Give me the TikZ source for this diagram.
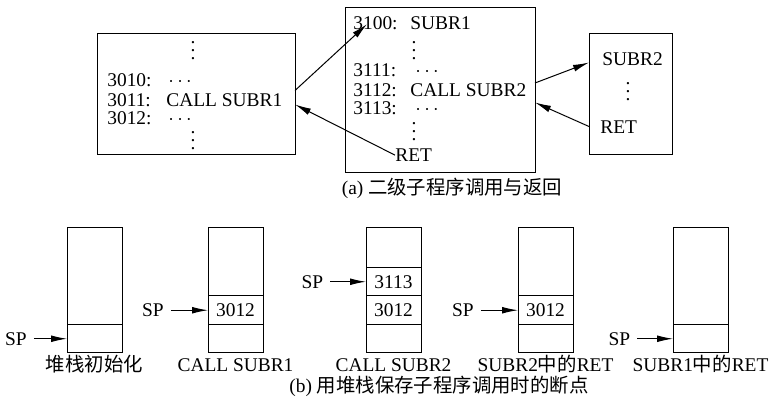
\documentclass[tikz,border=0pt]{standalone}
\usepackage{fontspec}
\setmainfont{Liberation Serif}
\newfontfamily\cjk{Noto Sans CJK SC}
\usetikzlibrary{arrows.meta}
\usetikzlibrary{positioning}

% three stacked dots, without the empty space above that \vdots keeps
\newcommand\dotcol{\vbox{\baselineskip4pt\lineskiplimit0pt\hbox{.}\hbox{.}\hbox{.}}}

\tikzset{
  frame/.style={draw,line width=0.5pt,inner sep=0pt,outer sep=0pt},
  cell/.style={frame,minimum width=27.5pt,minimum height=14.25pt},
  stack/.style={frame,minimum width=27.5pt,minimum height=62.5pt,anchor=south},
  asm/.style={inner sep=0pt,anchor=base west},
  vdot/.style={inner sep=0pt,anchor=south},
  jump/.style={-{Latex[length=8pt,width=3.4pt]},line width=0.5pt},
}

\begin{document}
\begin{tikzpicture}[x=0.5pt,y=-0.5pt,font=\fontsize{9.7pt}{11.6pt}\selectfont]
  \useasboundingbox (0,0) rectangle (773,405);

  % main program
  \node[frame,minimum width=99pt,minimum height=60.5pt] (caller) at (196,94.5) {};
  \node[vdot] (d1) at (193,60) {\dotcol};
  \node[asm] (a10) at (107,86.5) {3010:};
  \node[asm] (b10) at (168,86.5) {$\cdots$};
  \node[asm] (a11) at (107,106.5) {3011:};
  \node[asm] (call1) at (166,106.5) {CALL SUBR1};
  \node[asm] (a12) at (107,124.5) {3012:};
  \node[asm] (b12) at (168,124.5) {$\cdots$};
  \node[vdot] (d2) at (193,150) {\dotcol};

  % SUBR1
  \node[frame,minimum width=95pt,minimum height=82.5pt] (subone) at (440,90.5) {};
  \node[asm] (s00) at (353,29.5) {3100:};
  \node[asm] (e1) at (410,29.5) {SUBR1};
  \node[vdot] (d3) at (414,60) {\dotcol};
  \node[asm] (s11) at (353,76.5) {3111:};
  \node[asm] (t11) at (415,76.5) {$\cdots$};
  \node[asm] (s12) at (353,96.5) {3112:};
  \node[asm] (call2) at (410,96.5) {CALL SUBR2};
  \node[asm] (s13) at (353,114.5) {3113:};
  \node[asm] (t13) at (415,114.5) {$\cdots$};
  \node[vdot] (d4) at (414,141) {\dotcol};
  \node[asm] (ret1) at (395,161.5) {RET};

  % SUBR2
  \node[frame,minimum width=41.5pt,minimum height=60.5pt] (subtwo) at (630.5,94.5) {};
  \node[asm] (e2) at (602,65.5) {SUBR2};
  \node[vdot] (d5) at (628,101) {\dotcol};
  \node[asm] (ret2) at (600,133.5) {RET};

  % call and return
  \draw[jump] ([yshift=2pt]caller.east) -- ([shift={(14,-6)}]s00.south west);
  \draw[jump] (ret1.west) -- ([yshift=-5pt]caller.east);
  \draw[jump] ([yshift=3.75pt]subone.east) -- ([yshift=16pt]subtwo.west);
  \draw[jump] ([yshift=-16pt]subtwo.west) -- ([yshift=-6pt]subone.east);

  \node[anchor=base] (capa) at (452,195) {(a) {\cjk 二级子程序调用与返回}};

  % stack after init
  \node[stack] (stk1) at (94.5,353) {};
  \node[cell,anchor=south] (c1) at (stk1.south) {};
  \node (sp1) at (16,338.75) {SP};
  \draw[jump] (sp1) -- (c1);
  \node[anchor=base] (n1) at (94.5,372) {{\cjk 堆栈初始化}};

  % CALL SUBR1
  \node[stack] (stk2) at (235.5,353) {};
  \node[cell,anchor=south] (c2) at (stk2.south) {};
  \node[cell,above=0pt of c2] (c2a) {3012};
  \node (sp2) at (153,310.25) {SP};
  \draw[jump] (sp2) -- (c2a);
  \node[anchor=base] (n2) at (235.5,372) {CALL SUBR1};

  % CALL SUBR2
  \node[stack] (stk3) at (393.5,353) {};
  \node[cell,anchor=south] (c3) at (stk3.south) {};
  \node[cell,above=0pt of c3] (c3a) {3012};
  \node[cell,above=0pt of c3a] (c3b) {3113};
  \node (sp3) at (312.5,281.75) {SP};
  \draw[jump] (sp3) -- (c3b);
  \node[anchor=base] (n3) at (393.5,372) {CALL SUBR2};

  % RET in SUBR2
  \node[stack] (stk4) at (545.5,353) {};
  \node[cell,anchor=south] (c4) at (stk4.south) {};
  \node[cell,above=0pt of c4] (c4a) {3012};
  \node (sp4) at (463,310.25) {SP};
  \draw[jump] (sp4) -- (c4a);
  \node[anchor=base] (n4) at (545.5,372) {SUBR2{\cjk 中的}RET};

  % RET in SUBR1
  \node[stack] (stk5) at (700.5,353) {};
  \node[cell,anchor=south] (c5) at (stk5.south) {};
  \node (sp5) at (619.5,338.75) {SP};
  \draw[jump] (sp5) -- (c5);
  \node[anchor=base] (n5) at (700.5,372) {SUBR1{\cjk 中的}RET};

  \node[anchor=base] (capb) at (439,393) {(b) {\cjk 用堆栈保存子程序调用时的断点}};
\end{tikzpicture}
\end{document}
